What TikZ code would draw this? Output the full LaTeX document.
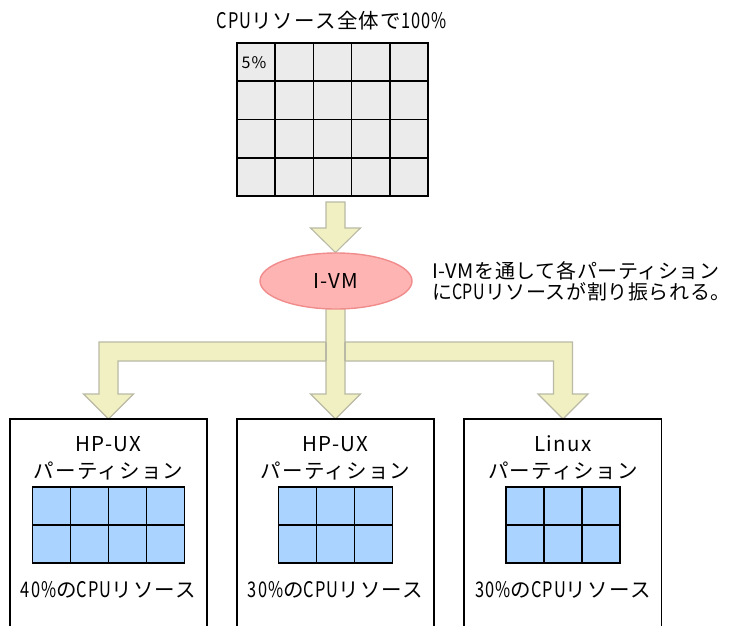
\documentclass[tikz,border=0pt]{standalone}
\usepackage{fontspec}
\setmainfont{Noto Sans CJK JP}[LetterSpace=6]
\newfontfamily\notefont{Noto Sans CJK JP}[LetterSpace=3]
\usetikzlibrary{shapes.geometric}
\definecolor{gridgray}{RGB}{235,235,235}
\definecolor{cellblue}{RGB}{170,212,255}
\definecolor{arrfill}{RGB}{240,240,194}
\definecolor{arrline}{RGB}{185,185,165}
\definecolor{ellfill}{RGB}{255,180,180}
\definecolor{elldraw}{RGB}{240,140,140}
\newcommand\hw[1]{\scalebox{0.8}[1.05]{#1}}
\newcommand\mygrid[5]{% x0, y0, cols-list, rows-list, fill ; cell 38
  \foreach \i in {#3} \foreach \j in {#4}
    \draw[gridline, fill=#5] ({#1+38*(\i-1)},{#2+38*(\j-1)}) rectangle ++(38,38);
}
\begin{document}
\begin{tikzpicture}[x=1pt,y=-1pt,
  gridline/.style={line width=1.6pt, draw=black, line join=miter},
  txt/.style={inner sep=0pt, font=\fontsize{20.5}{24}\selectfont, text height=14pt, text depth=0pt},
  notetxt/.style={inner sep=0pt, font=\notefont\fontsize{20}{24}\selectfont, text height=14pt, text depth=0pt},
  small/.style={inner sep=0pt, font=\fontsize{16}{19}\selectfont, text height=11pt, text depth=0pt},
  blockarrow/.style={fill=arrfill, draw=arrline, line width=1.1pt, line join=miter},
  partbox/.style={line width=1.6pt, draw=black},
  vm/.style={ellipse, fill=ellfill, draw=elldraw, line width=1.4pt, minimum width=152pt, minimum height=56pt, inner sep=0pt, font=\fontsize{20.5}{24}\selectfont}]
\useasboundingbox (0,0) rectangle (731,625);

% title and top grid
\node[txt] (title) at (331.5,21) {\hw{CPU}リソース全体で\hw{100\%}};
\foreach \i in {1,...,5} \foreach \j in {1,...,4}
  \draw[gridline, fill=gridgray] ({237+38.2*(\i-1)},{43+38.25*(\j-1)}) rectangle ++(38.2,38.25);
\node[small] (five) at (254,62.5) {5\%};

% top block arrow
\draw[blockarrow] (326,202) -- (345,202) -- (345,228) -- (360.5,228) -- (335.5,252.5) -- (310.5,228) -- (326,228) -- cycle;

% branch block arrow
\draw[blockarrow] (326,300) -- (326,342) -- (99,342) -- (99,394) -- (83.5,394) -- (108.5,419) -- (133.5,394) -- (118,394) -- (118,361)
  -- (326,361) -- (326,394) -- (310.5,394) -- (335.5,419) -- (360.5,394) -- (345,394) -- (345,361)
  -- (553.5,361) -- (553.5,394) -- (538,394) -- (563,419) -- (588,394) -- (572.5,394) -- (572.5,342)
  -- (345,342) -- (345,300) -- cycle;
\draw[arrline, line width=1.1pt] (326,342) -- (326,361) (345,342) -- (345,361);

% I-VM ellipse
\node[vm] (ivm) at (336,281) {I-VM};
\node[notetxt, anchor=west] (note1) at (432,271) {I-VMを通して各パーティション};
\node[notetxt, anchor=west] (note2) at (432,292.5) {に\hw{CPU}リソースが割り振られる。};

% partition boxes
\coordinate (b1tl) at (10,419); \coordinate (b1tr) at (207,419);
\coordinate (b2tl) at (237,419); \coordinate (b2tr) at (434,419);
\coordinate (b3tl) at (464,419); \coordinate (b3tr) at (661.5,419);
\draw[partbox] (b1tl) ++(0,210) -- (b1tl) -- (b1tr) -- ++(0,210);
\draw[partbox] (b2tl) ++(0,210) -- (b2tl) -- (b2tr) -- ++(0,210);
\draw[partbox] (b3tl) ++(0,210) -- (b3tl) -- (b3tr) -- ++(0,210);

\node[txt] (p1a) at (108.5,444) {HP-UX};
\node[txt] (p1b) at (108.5,471) {パーティション};
\mygrid{32.5}{487}{1,2,3,4}{1,2}{cellblue}
\node[txt] (p1c) at (108.5,590) {\hw{40\%}の\hw{CPU}リソース};

\node[txt] (p2a) at (335.5,444) {HP-UX};
\node[txt] (p2b) at (335.5,471) {パーティション};
\mygrid{278.5}{487}{1,2,3}{1,2}{cellblue}
\node[txt] (p2c) at (335.5,590) {\hw{30\%}の\hw{CPU}リソース};

\node[txt] (p3a) at (563,444) {Linux};
\node[txt] (p3b) at (563,471) {パーティション};
\mygrid{506}{487}{1,2,3}{1,2}{cellblue}
\node[txt] (p3c) at (563,590) {\hw{30\%}の\hw{CPU}リソース};
\end{tikzpicture}
\end{document}
